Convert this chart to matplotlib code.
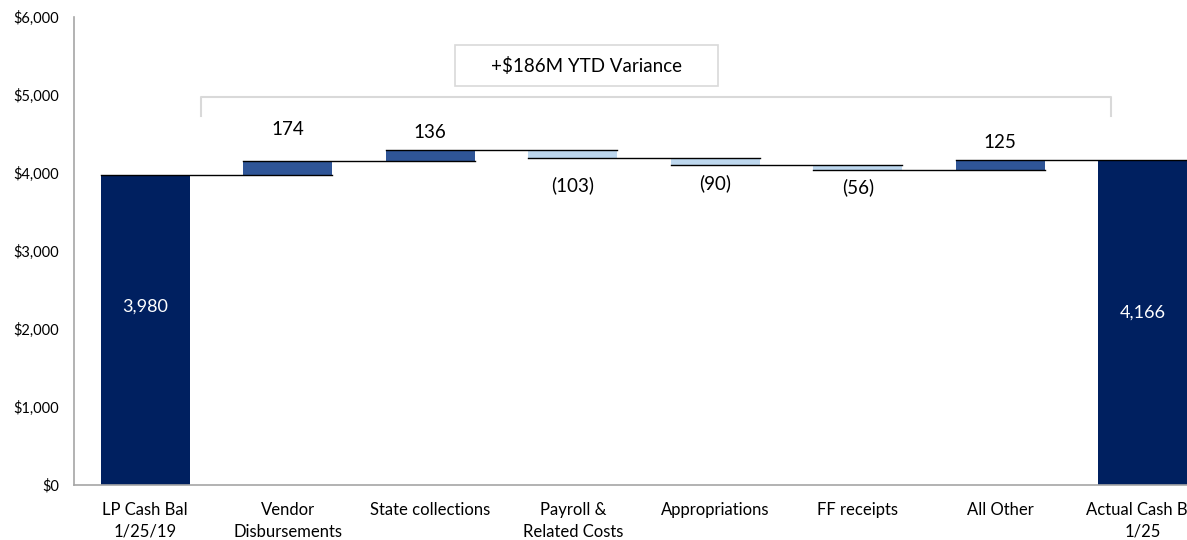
import matplotlib
matplotlib.use("Agg")
import matplotlib.pyplot as plt
from matplotlib.patches import Rectangle

categories = ["LP Cash Bal\n1/25/19", "Vendor\nDisbursements", "State collections",
              "Payroll &\nRelated Costs", "Appropriations", "FF receipts", "All Other",
              "Actual Cash Bal\n1/25"]
start_value = 3980
changes = [174, 136, -103, -90, -56, 125]
end_value = 4166
change_labels = ["174", "136", "(103)", "(90)", "(56)", "125"]
total_labels = ["3,980", "4,166"]
variance_text = "+$186M YTD Variance"
yticks = [0, 1000, 2000, 3000, 4000, 5000, 6000]
ytick_labels = ["$0", "$1,000", "$2,000", "$3,000", "$4,000", "$5,000", "$6,000"]

DARK = "#002060"
MID = "#2F5597"
LIGHT = "#BDD7EE"
plt.rcParams['font.family'] = ['Lato', 'DejaVu Sans']

fig = plt.figure(figsize=(11.87, 5.4), dpi=100)
ax = fig.add_axes([74/1187, 1-485/540, 1-74/1187, (485-17)/540])
w = 0.625

# totals
ax.bar(0, start_value, width=w, color=DARK, zorder=2)
ax.bar(7, end_value, width=w, color=DARK, zorder=2)
ax.text(0, start_value*0.573, total_labels[0], color="white", ha="center", va="center", fontsize=13)
ax.text(7, end_value*0.53, total_labels[1], color="white", ha="center", va="center", fontsize=13)

levels = [start_value]
cur = start_value
for i, c in enumerate(changes):
    x = i + 1
    bottom = cur if c > 0 else cur + c
    col = MID if c > 0 else LIGHT
    ax.bar(x, abs(c), bottom=bottom, width=w, color=col, zorder=2)
    if c > 0:
        off = 400 if i == 0 else 230
        ax.text(x, cur + c + off, change_labels[i], ha="center", va="center", fontsize=13.5)
    else:
        off = 340 if i == 2 else 225
        ax.text(x, cur + c - off, change_labels[i], ha="center", va="center", fontsize=13.5)
    cur += c
    levels.append(cur)

# connectors
for i, lv in enumerate(levels):
    ax.plot([i - w/2, i + 1 + w/2], [lv, lv], color="black", lw=1, zorder=3)

# bracket
bx0, bx1, by, bdrop = 0.39, 6.78, 4975, 240
ax.plot([bx0, bx0, bx1, bx1], [by - bdrop, by, by, by - bdrop], color="#D9D9D9", lw=1.5, zorder=1)
ax.add_patch(Rectangle((2.17, 5115), 4.02 - 2.17, 5641 - 5115, fc="white", ec="#D9D9D9", lw=1.2, zorder=4))
ax.text(3.095, 5378, variance_text, ha="center", va="center", fontsize=13.5, zorder=5)

ax.set_xlim(-0.5, 7.31)
ax.set_ylim(0, 6000)
ax.set_yticks(yticks)
ax.set_yticklabels(ytick_labels, fontsize=10.5)
ax.set_xticks(range(len(categories)))
ax.set_xticklabels(categories, fontsize=12, linespacing=1.45)
ax.tick_params(axis="y", length=0, pad=11)
ax.tick_params(axis="x", length=0, pad=12)
for s in ["top", "right"]:
    ax.spines[s].set_visible(False)
for s in ["left", "bottom"]:
    ax.spines[s].set_color("#A6A6A6")
    ax.spines[s].set_linewidth(1.2)

fig.savefig("out.png", dpi=100)
